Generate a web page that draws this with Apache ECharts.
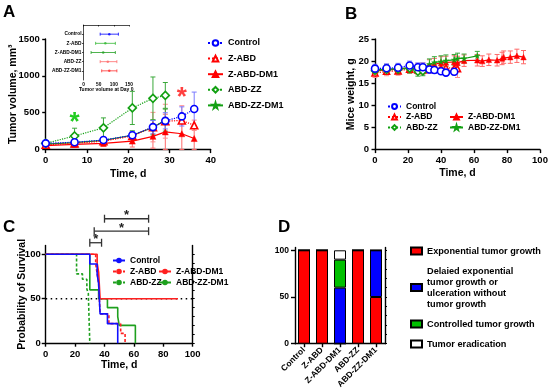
<!DOCTYPE html>
<html><head><meta charset="utf-8">
<script src="https://cdn.jsdelivr.net/npm/echarts@6/dist/echarts.min.js"></script>
<style>html,body{margin:0;padding:0;background:#fff}#c{width:550px;height:388px}</style>
</head><body><div id="c"></div>
<script>
// ---------- Panel A: tumor volume ----------
const daysA = [0, 7, 14, 21, 26, 29, 33, 36];
const ctrlA = [85, 100, 130, 195, 305, 390, 450, 550];
const ctrlAsd = [20, 20, 30, 50, 90, 110, 130, 230];
const zabdA = [65, 85, 115, 185, 305, 385, 395, 330];
const zabdAsd = [15, 20, 30, 60, 200, 230, 200, 70];
const zabdDm1A = [55, 70, 85, 115, 180, 240, 215, 150];
const zabdDm1Asd = [15, 20, 40, 80, 160, 240, 215, 150];
const daysZZ = [0, 7, 14, 21, 26, 29];
const abdzzA = [85, 185, 295, 565, 695, 735];
const abdzzAsd = [20, 105, 135, 225, 290, 175];
const abdzzDm1A = [75, 95, 125, 195, 300, 400];
const abdzzDm1Asd = [20, 25, 35, 60, 100, 150];
const starsA = [[7, 445], [33, 785]];
const aYTicks = [0, 500, 1000, 1500];
const aXTicks = [0, 10, 20, 30, 40];

// inset: tumor volume at day 0
const insetGroups = ['Control', 'Z-ABD', 'Z-ABD-DM1', 'ABD-ZZ', 'ABD-ZZ-DM1'];
const insetMean = [85, 72, 65, 80, 85];
const insetLo = [55, 40, 25, 55, 60];
const insetHi = [115, 105, 105, 110, 110];
const insetXTicks = [0, 50, 100, 150];

// ---------- Panel B: mice weight ----------
const daysBctrl = [0, 7, 14, 21, 26, 29, 33, 36, 40, 43, 48];
const ctrlB = [18.3, 18.4, 18.5, 19.0, 18.6, 18.6, 18.1, 18.0, 17.7, 17.4, 17.6];
const ctrlBsd = [1.0, 1.0, 1.0, 1.0, 1.0, 1.0, 0.8, 0.8, 0.6, 0.6, 0.7];
const daysBzabd = [0, 7, 14, 21, 26, 29, 33, 36, 40, 43, 48, 50];
const zabdB = [17.3, 17.7, 17.8, 18.2, 18.0, 18.0, 18.2, 18.3, 18.4, 18.5, 18.4, 18.3];
const zabdBsd = [1.0, 1.0, 1.0, 1.0, 1.0, 1.0, 1.0, 1.0, 1.2, 1.2, 1.5, 2.0];
const daysBzabdDm1 = [0, 7, 14, 21, 26, 29, 33, 36, 40, 43, 48, 50, 54, 62, 65, 69, 74, 77, 78, 82, 86, 90];
const zabdDm1B = [17.8, 18.0, 18.2, 18.5, 18.3, 18.4, 19.0, 19.3, 19.6, 19.7, 19.8, 19.6, 20.1, 20.2, 20.0, 20.3, 20.2, 20.6, 20.9, 20.9, 21.2, 20.9];
const zabdDm1Bsd = [1.0, 1.0, 1.0, 1.2, 1.2, 1.2, 1.3, 1.3, 1.4, 1.4, 1.4, 1.5, 1.3, 1.3, 1.2, 1.3, 1.3, 1.4, 1.4, 1.4, 1.5, 1.5];
const daysBzz = [0, 7, 14, 21, 26, 29];
const abdzzB = [17.8, 18.0, 18.1, 18.3, 17.6, 17.7];
const abdzzBsd = [1.0, 1.0, 1.0, 1.0, 1.0, 1.0];
const daysBzzDm1 = [0, 7, 14, 21, 26, 29, 33, 36, 40, 43, 48, 50, 54, 62];
const abdzzDm1B = [18.0, 18.2, 18.3, 18.5, 18.2, 18.3, 19.3, 19.7, 19.9, 20.1, 20.3, 20.6, 20.6, 21.2];
const abdzzDm1Bsd = [1.0, 1.0, 1.0, 1.0, 1.0, 1.0, 1.2, 1.3, 1.3, 1.3, 1.2, 1.2, 1.0, 1.0];
const bYTicks = [0, 5, 10, 15, 20, 25];
const bXTicks = [0, 20, 40, 60, 80, 100];

// ---------- Panel C: survival ----------
const survCtrlT = [0, 30, 35, 36, 37, 42, 49];
const survCtrlS = [100, 89, 78, 67, 33, 22, 0];
const survZabdT = [0, 34, 35, 36, 37, 43, 51, 54];
const survZabdS = [100, 89, 78, 67, 33, 22, 11, 0];
const survZabdDm1T = [0, 35, 36, 37, 90];
const survZabdDm1S = [100, 90, 80, 50, 50];
const survZzT = [0, 21, 25, 28, 29, 30];
const survZzS = [100, 78, 72, 61, 56, 0];
const survZzDm1T = [0, 30, 36, 42, 49, 50, 61];
const survZzDm1S = [100, 60, 50, 40, 30, 20, 0];
const medianLine = [[0, 50], [104, 50]];
const brackets = [[30, 38, 113], [33, 70, 126], [40, 70, 140]];
const cYTicks = [0, 50, 100];
const cXTicks = [0, 20, 40, 60, 80, 100];

// ---------- Panel D: outcome ----------
const dCats = ['Control', 'Z-ABD', 'Z-ABD-DM1', 'ABD-ZZ', 'ABD-ZZ-DM1'];
const dExp = [100, 100, 0, 100, 50];
const dDelayed = [0, 0, 60, 0, 50];
const dControlled = [0, 0, 30, 0, 0];
const dErad = [0, 0, 10, 0, 0];
const dYTicks = [0, 50, 100];

// ---------- helpers ----------
const F = '"Liberation Sans", Arial, sans-serif';
const BLUE = '#0000ff', RED = '#ff0000', GREEN = '#12a012';
const STAR = 'path://M50,0 L61,35 L98,35 L68,57 L79,91 L50,70 L21,91 L32,57 L2,35 L39,35 Z';
const zip = (x, y) => x.map((v, i) => [v, y[i]]);
const errData = (x, m, sd) => x.map((v, i) => [v, Math.max(0, m[i] - sd[i]), m[i] + sd[i]]);
function stepPts(t, s) {
  const p = [[t[0], s[0]]];
  for (let i = 1; i < t.length; i++) { p.push([t[i], s[i - 1]]); p.push([t[i], s[i]]); }
  return p;
}
function vErr(color, cap) {
  return function (params, api) {
    const x = api.value(0), lo = api.value(1), hi = api.value(2);
    const a = api.coord([x, lo]), b = api.coord([x, hi]);
    const st = { stroke: color, lineWidth: 1 };
    return { type: 'group', children: [
      { type: 'line', shape: { x1: a[0], y1: a[1], x2: b[0], y2: b[1] }, style: st },
      { type: 'line', shape: { x1: a[0] - cap, y1: a[1], x2: a[0] + cap, y2: a[1] }, style: st },
      { type: 'line', shape: { x1: b[0] - cap, y1: b[1], x2: b[0] + cap, y2: b[1] }, style: st }
    ] };
  };
}
function hErr(color, cap) {
  return function (params, api) {
    const lo = api.value(0), hi = api.value(1), y = api.value(2);
    const a = api.coord([lo, y]), b = api.coord([hi, y]);
    const st = { stroke: color, lineWidth: 0.8 };
    return { type: 'group', children: [
      { type: 'line', shape: { x1: a[0], y1: a[1], x2: b[0], y2: b[1] }, style: st },
      { type: 'line', shape: { x1: a[0], y1: a[1] - cap, x2: a[0], y2: a[1] + cap }, style: st },
      { type: 'line', shape: { x1: b[0], y1: b[1] - cap, x2: b[0], y2: b[1] + cap }, style: st }
    ] };
  };
}
function errSeries(xi, yi, data, color, cap) {
  return { type: 'custom', xAxisIndex: xi, yAxisIndex: yi, renderItem: vErr(color, cap), data: data,
           encode: { x: 0, y: [1, 2] }, z: 1, silent: true };
}
const lbl = (fs) => ({ color: '#000', fontSize: fs, fontWeight: 'bold', fontFamily: F });
const plain = v => String(v);
function ax(extra) {
  const base = {
    nameMoveOverlap: false,
    axisLine: { show: true, onZero: false, lineStyle: { color: '#000', width: 1.4 } },
    axisTick: { show: true, length: 3.5, lineStyle: { color: '#000', width: 1.4 } },
    axisLabel: Object.assign(lbl(9.5), { margin: 6, formatter: plain }),
    splitLine: { show: false },
    nameTextStyle: lbl(10.5)
  };
  return Object.assign(base, extra);
}
const mm = (arr) => ({ min: arr[0], max: arr[arr.length - 1], interval: arr[1] - arr[0] });

function lineS(name, xi, yi, data, color, dashed, symbol, open, size) {
  return {
    name: name, type: 'line', xAxisIndex: xi, yAxisIndex: yi, data: data,
    symbol: symbol, symbolSize: size, showSymbol: true,
    lineStyle: { color: color, width: 1.2, type: dashed ? 'dotted' : 'solid' },
    itemStyle: open ? { color: '#fff', borderColor: color, borderWidth: 1.6 } : { color: color, borderColor: color, borderWidth: 0.5 },
    z: 3, animation: false
  };
}

const series = [];
series.push(errSeries(0, 0, errData(daysA, zabdDm1A, zabdDm1Asd), '#ff6a6a', 2.5));
series.push(errSeries(0, 0, errData(daysA, zabdA, zabdAsd), '#ff8c8c', 2.5));
series.push(errSeries(0, 0, errData(daysZZ, abdzzDm1A, abdzzDm1Asd), '#2a9a2a', 2.5));
series.push(errSeries(0, 0, errData(daysZZ, abdzzA, abdzzAsd), '#3aa83a', 2.5));
series.push(errSeries(0, 0, errData(daysA, ctrlA, ctrlAsd), '#7a7aff', 2.5));
series.push(lineS('Z-ABD-DM1', 0, 0, zip(daysA, zabdDm1A), RED, false, 'triangle', false, 6));
series.push(lineS('ABD-ZZ-DM1', 0, 0, zip(daysZZ, abdzzDm1A), GREEN, false, STAR, false, 6));
series.push(lineS('Z-ABD', 0, 0, zip(daysA, zabdA), RED, true, 'triangle', true, 7));
series.push(lineS('ABD-ZZ', 0, 0, zip(daysZZ, abdzzA), GREEN, true, 'diamond', true, 8));
series.push(lineS('Control', 0, 0, zip(daysA, ctrlA), BLUE, true, 'circle', true, 7));
series.push({
  type: 'custom', xAxisIndex: 0, yAxisIndex: 0, data: starsA, silent: true, z: 5,
  renderItem: function (params, api) {
    const p = api.coord([api.value(0), api.value(1)]);
    return { type: 'text', x: p[0], y: p[1] + 6, style: { text: '*', fill: params.dataIndex === 0 ? '#22cc22' : '#ff4040',
      font: 'bold 26px ' + F, textAlign: 'center', textVerticalAlign: 'middle' } };
  }
});
const insetColors = [BLUE, '#33b833', '#22a022', '#ff6a6a', '#ff3030'];
series.push({
  type: 'custom', xAxisIndex: 1, yAxisIndex: 1, silent: true, z: 2,
  data: insetGroups.map((g, i) => [insetLo[i], insetHi[i], i + 1]),
  encode: { x: [0, 1], y: 2 },
  renderItem: function (params, api) { return hErr(insetColors[params.dataIndex], 1.5)(params, api); }
});
series.push({
  type: 'scatter', xAxisIndex: 1, yAxisIndex: 1, symbol: 'circle', symbolSize: 2.5, silent: true, z: 3,
  data: insetGroups.map((g, i) => ({ value: [insetMean[i], i + 1], itemStyle: { color: insetColors[i] } }))
});
series.push(errSeries(2, 2, errData(daysBzabdDm1, zabdDm1B, zabdDm1Bsd), '#ff6a6a', 2.5));
series.push(errSeries(2, 2, errData(daysBzabd, zabdB, zabdBsd), '#ff8c8c', 2.5));
series.push(errSeries(2, 2, errData(daysBzzDm1, abdzzDm1B, abdzzDm1Bsd), '#3aa83a', 2.5));
series.push(errSeries(2, 2, errData(daysBzz, abdzzB, abdzzBsd), '#3aa83a', 2.5));
series.push(errSeries(2, 2, errData(daysBctrl, ctrlB, ctrlBsd), '#7a7aff', 2.5));
series.push(lineS('Z-ABD-DM1', 2, 2, zip(daysBzabdDm1, zabdDm1B), RED, false, 'triangle', false, 5.5));
series.push(lineS('ABD-ZZ-DM1', 2, 2, zip(daysBzzDm1, abdzzDm1B), GREEN, false, STAR, false, 5.5));
series.push(lineS('Z-ABD', 2, 2, zip(daysBzabd, zabdB), RED, true, 'triangle', true, 6));
series.push(lineS('ABD-ZZ', 2, 2, zip(daysBzz, abdzzB), GREEN, true, 'diamond', true, 7));
series.push(lineS('Control', 2, 2, zip(daysBctrl, ctrlB), BLUE, true, 'circle', true, 7));
function survS(name, t, s, color, dash) {
  return { name: name, type: 'line', xAxisIndex: 3, yAxisIndex: 3, data: stepPts(t, s), showSymbol: false,
           symbol: 'none', lineStyle: { color: color, width: 1.6, type: dash ? [3, 2] : 'solid' },
           itemStyle: { color: color }, z: 3, animation: false, clip: false };
}
series.push({ type: 'line', xAxisIndex: 3, yAxisIndex: 3, data: medianLine, showSymbol: false, symbol: 'none', clip: false,
  lineStyle: { color: '#000', width: 1.5, type: [1.5, 3.5] }, z: 2, silent: true, animation: false });
series.push(survS('C:ABD-ZZ-DM1', survZzDm1T, survZzDm1S, '#1ea01e', false));
series.push(survS('C:ABD-ZZ', survZzT, survZzS, '#1ea01e', true));
series.push(survS('C:Z-ABD', survZabdT, survZabdS, '#ff2020', true));
series.push(survS('C:Z-ABD-DM1', survZabdDm1T, survZabdDm1S, '#ff2020', false));
series.push(survS('C:Control', survCtrlT, survCtrlS, '#1010ff', false));
series.push({
  type: 'custom', xAxisIndex: 3, yAxisIndex: 3, data: brackets, silent: true, clip: false, z: 4,
  encode: { x: [0, 1], y: 2 },
  renderItem: function (params, api) {
    const a = api.coord([api.value(0), api.value(2)]), b = api.coord([api.value(1), api.value(2)]);
    const st = { stroke: '#333', lineWidth: 1.3 };
    return { type: 'group', children: [
      { type: 'line', shape: { x1: a[0], y1: a[1], x2: b[0], y2: b[1] }, style: st },
      { type: 'line', shape: { x1: a[0], y1: a[1] - 4, x2: a[0], y2: a[1] + 4 }, style: st },
      { type: 'line', shape: { x1: b[0], y1: b[1] - 4, x2: b[0], y2: b[1] + 4 }, style: st },
      { type: 'text', x: (a[0] + b[0]) / 2, y: a[1] - 3, style: { text: '*', fill: '#222', font: 'bold 13px ' + F, textAlign: 'center', textVerticalAlign: 'middle' } }
    ] };
  }
});
function barS(name, data, color) {
  return { name: name, type: 'bar', stack: 'd', xAxisIndex: 4, yAxisIndex: 4, data: data, barWidth: 12,
           itemStyle: { color: color, borderColor: '#000', borderWidth: 1 }, animation: false };
}
series.push(barS('Exponential tumor growth', dExp, '#ff0000'));
series.push(barS('Delaied exponential\ntumor growth or\nulceration without\ntumor growth', dDelayed, '#0000ff'));
series.push(barS('Controlled tumor growth', dControlled, '#00c000'));
series.push(barS('Tumor eradication', dErad, '#ffffff'));

const grids = [
  { left: 45.7, top: 39, width: 165, height: 110.6 },   // A
  { left: 83.5, top: 25, width: 45.5, height: 55 },     // A inset
  { left: 375, top: 39, width: 165, height: 110.6 },    // B
  { left: 45.7, top: 245.4, width: 147, height: 97.8 }, // C
  { left: 295, top: 247.5, width: 90, height: 96.2 }    // D
].map(g => Object.assign({ containLabel: false, outerBoundsMode: 'none' }, g));

const xAxis = [
  ax(Object.assign({ gridIndex: 0, type: 'value', name: 'Time, d', nameLocation: 'middle', nameGap: 19 }, mm(aXTicks))),
  ax(Object.assign({ gridIndex: 1, type: 'value', name: 'Tumor volume at Day 0', nameLocation: 'middle', nameGap: 7,
      nameTextStyle: lbl(5), axisLine: { show: true, lineStyle: { color: '#000', width: 0.7 } },
      axisTick: { show: true, length: 1.5, lineStyle: { color: '#000', width: 0.7 } },
      axisLabel: Object.assign(lbl(4.8), { margin: 2, formatter: plain }) }, mm(insetXTicks))),
  ax(Object.assign({ gridIndex: 2, type: 'value', name: 'Time, d', nameLocation: 'middle', nameGap: 18.5 }, mm(bXTicks))),
  ax(Object.assign({ gridIndex: 3, type: 'value', name: 'Time, d', nameLocation: 'middle', nameGap: 16.5 }, mm(cXTicks))),
  ax({ gridIndex: 4, type: 'category', data: dCats, axisTick: { show: true, length: 3.5, alignWithLabel: true, lineStyle: { color: '#000', width: 1.4 } },
       axisLabel: Object.assign(lbl(8.5), { rotate: 45, interval: 0, margin: 5 }) })
];
const yAxis = [
  ax(Object.assign({ gridIndex: 0, type: 'value', name: 'Tumor volume, mm\u00b3', nameLocation: 'middle', nameGap: 27.5 }, mm(aYTicks))),
  ax({ gridIndex: 1, type: 'value', min: 0, max: 6, inverse: true,
       axisLine: { show: true, lineStyle: { color: '#000', width: 0.7 } },
       axisTick: { show: true, length: 1.5, customValues: [1, 2, 3, 4, 5], lineStyle: { color: '#000', width: 0.7 } },
       axisLabel: Object.assign(lbl(4.8), { margin: 2, customValues: [1, 2, 3, 4, 5], formatter: v => insetGroups[v - 1] || '' }) }),
  ax(Object.assign({ gridIndex: 2, type: 'value', name: 'Mice weight, g', nameLocation: 'middle', nameGap: 18.5 }, mm(bYTicks))),
  ax({ gridIndex: 3, type: 'value', min: 0, max: 110, name: 'Probability of Survival', nameLocation: 'middle', nameGap: 18.5,
       axisTick: { show: true, length: 4, customValues: cYTicks, lineStyle: { color: '#000', width: 1.4 } },
       axisLabel: Object.assign(lbl(9.5), { margin: 5, customValues: cYTicks, formatter: plain }) }),
  ax({ gridIndex: 4, type: 'value', min: 0, max: 103,
       axisTick: { show: true, length: 4, customValues: dYTicks, lineStyle: { color: '#000', width: 1.4 } },
       axisLabel: Object.assign(lbl(8.5), { margin: 6, customValues: dYTicks, formatter: plain }) }),
  ax({ gridIndex: 3, type: 'value', min: 0, max: 110, axisLabel: { show: false },
       axisTick: { show: true, length: 2, customValues: [0,10,20,30,40,50,60,70,80,90,100], lineStyle: { color: '#000', width: 1 } } }),
  ax({ gridIndex: 4, type: 'value', min: 0, max: 103, axisLabel: { show: false },
       axisTick: { show: true, length: 2, customValues: [0,10,20,30,40,50,60,70,80,90,100], lineStyle: { color: '#000', width: 1 } } })
];

const legTxt = (fs, lh) => Object.assign(lbl(fs), { lineHeight: lh });
const legend = [
  { data: ['Control', 'Z-ABD', 'Z-ABD-DM1', 'ABD-ZZ', 'ABD-ZZ-DM1'], orient: 'vertical', left: 207, top: 38, padding: 0,
    itemWidth: 15, itemHeight: 7, itemGap: 5.6, textStyle: legTxt(9, 10), selectedMode: false },
  { data: ['Control', 'Z-ABD', 'ABD-ZZ'], orient: 'vertical', left: 387, top: 102, padding: 0,
    itemWidth: 13, itemHeight: 6, itemGap: 1.5, textStyle: legTxt(8.5, 9), selectedMode: false },
  { data: ['Z-ABD-DM1', 'ABD-ZZ-DM1'], orient: 'vertical', left: 449, top: 112.5, padding: 0,
    itemWidth: 13, itemHeight: 6, itemGap: 1.5, textStyle: legTxt(8.5, 9), selectedMode: false },
  { data: ['C:Control', 'C:Z-ABD', 'C:ABD-ZZ'], orient: 'vertical', left: 112, top: 256, padding: 0,
    itemWidth: 12, itemHeight: 7, itemGap: 2, textStyle: legTxt(8.5, 9), selectedMode: false,
    formatter: n => n.replace('C:', '') },
  { data: ['C:Z-ABD-DM1', 'C:ABD-ZZ-DM1'], orient: 'vertical', left: 158, top: 267, padding: 0,
    itemWidth: 12, itemHeight: 7, itemGap: 2, textStyle: legTxt(8.5, 9), selectedMode: false,
    formatter: n => n.replace('C:', '') },
  { data: series.filter(s => s.type === 'bar').map(s => s.name), orient: 'vertical', left: 410, top: 245.5, padding: 0,
    icon: 'rect', itemWidth: 11, itemHeight: 7, itemGap: 9, textStyle: legTxt(9.2, 11), selectedMode: false }
];

const graphic = [
  ['A', 3, 4], ['B', 345, 6], ['C', 3, 219], ['D', 278, 219]
].map(([t, x, y]) => ({ type: 'text', left: x, top: y, style: { text: t, font: 'bold 17px ' + F, fill: '#000' } }));

const chart = echarts.init(document.getElementById('c'), null, { renderer: 'canvas' });
chart.setOption({ animation: false, backgroundColor: '#fff', grid: grids, xAxis: xAxis, yAxis: yAxis,
  legend: legend, series: series, graphic: graphic, tooltip: { show: false } });
</script></body></html>
